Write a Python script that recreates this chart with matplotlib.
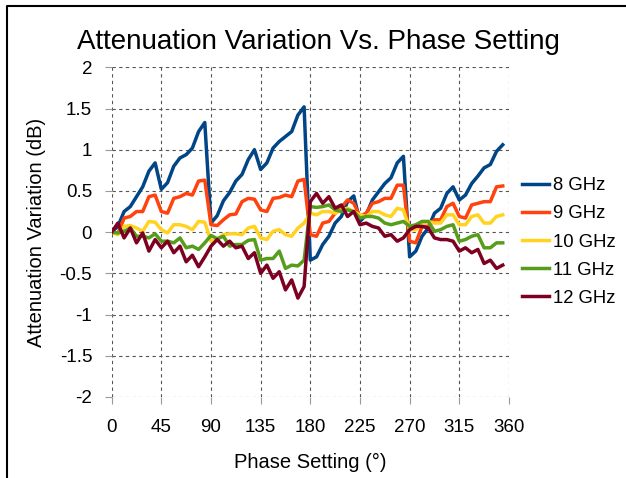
import numpy as np
import matplotlib.pyplot as plt
from matplotlib.lines import Line2D

plt.rcParams['font.family'] = ['Liberation Sans', 'DejaVu Sans']

# phase settings, 5.625 degree steps
phase = np.arange(64) * 5.625

ghz8 = [0, 0.07, 0.25, 0.31, 0.43, 0.55, 0.74, 0.84, 0.52, 0.6, 0.8, 0.9, 0.94, 1.02, 1.22, 1.33,
        0.11, 0.2, 0.38, 0.48, 0.62, 0.70, 0.88, 1.0, 0.76, 0.84, 1.02, 1.1, 1.16, 1.22, 1.42, 1.52,
        -0.34, -0.3, -0.15, -0.05, 0.11, 0.19, 0.37, 0.44, 0.13, 0.21, 0.39, 0.49, 0.59, 0.66, 0.84, 0.92,
        -0.3, -0.23, -0.05, 0.05, 0.23, 0.29, 0.47, 0.55, 0.39, 0.45, 0.59, 0.68, 0.78, 0.82, 0.98, 1.06]
ghz9 = [0, -0.02, 0.17, 0.19, 0.25, 0.25, 0.43, 0.45, 0.25, 0.23, 0.41, 0.43, 0.47, 0.45, 0.62, 0.63,
        0.09, 0.08, 0.15, 0.21, 0.22, 0.37, 0.41, 0.40, 0.27, 0.25, 0.41, 0.42, 0.45, 0.43, 0.62, 0.64,
        -0.03, -0.05, 0.11, 0.13, 0.23, 0.30, 0.39, 0.35, 0.19, 0.23, 0.35, 0.37, 0.41, 0.41, 0.57, 0.57,
        -0.11, -0.13, 0.07, 0.07, 0.15, 0.15, 0.31, 0.35, 0.19, 0.17, 0.33, 0.35, 0.37, 0.37, 0.55, 0.56]
ghz10 = [0, -0.03, 0.07, 0.08, 0.05, 0.01, 0.13, 0.12, 0.03, -0.01, 0.09, 0.09, 0.07, 0.03, 0.13, 0.12,
         -0.11, -0.09, -0.03, -0.02, -0.02, -0.03, 0.05, 0.07, -0.07, -0.09, 0.01, 0.03, -0.03, -0.05, 0.05, 0.11,
         0.23, 0.21, 0.25, 0.25, 0.23, 0.27, 0.29, 0.25, 0.21, 0.19, 0.25, 0.25, 0.21, 0.19, 0.29, 0.27,
         0.03, 0.03, 0.11, 0.13, 0.11, 0.11, 0.21, 0.21, 0.09, 0.09, 0.19, 0.21, 0.11, 0.11, 0.19, 0.21]
ghz11 = [0, -0.01, 0.01, 0.05, -0.05, -0.05, -0.07, -0.02, -0.11, -0.11, -0.13, -0.07, -0.19, -0.17, -0.21, -0.13,
         -0.04, -0.08, -0.05, -0.17, -0.15, -0.15, -0.1, -0.09, -0.34, -0.32, -0.32, -0.23, -0.44, -0.40, -0.41, -0.34,
         0.31, 0.30, 0.31, 0.33, 0.27, 0.25, 0.27, 0.25, 0.17, 0.19, 0.19, 0.17, 0.11, 0.09, 0.11, 0.13,
         0.07, 0.09, 0.13, 0.13, 0.01, 0.03, 0.07, 0.09, -0.11, -0.09, -0.05, -0.03, -0.19, -0.19, -0.13, -0.13]
ghz12 = [0, 0.11, -0.07, 0.05, -0.13, -0.01, -0.23, -0.09, -0.19, -0.11, -0.25, -0.17, -0.36, -0.28, -0.42, -0.30,
         -0.17, -0.09, -0.17, -0.11, -0.19, -0.17, -0.32, -0.25, -0.5, -0.4, -0.56, -0.48, -0.7, -0.58, -0.8, -0.66,
         0.37, 0.47, 0.35, 0.43, 0.29, 0.33, 0.19, 0.25, 0.09, 0.11, 0.07, 0.05, -0.05, -0.03, -0.11, -0.07,
         0.03, 0.07, 0.07, 0.05, -0.07, -0.09, -0.09, -0.11, -0.23, -0.19, -0.25, -0.21, -0.38, -0.34, -0.44, -0.40]

series = [ghz8, ghz9, ghz10, ghz11, ghz12]
names = ['8 GHz', '9 GHz', '10 GHz', '11 GHz', '12 GHz']
colors = ['#004586', '#ff420e', '#ffd320', '#579d1c', '#7e0021']

fig = plt.figure(figsize=(6.26, 4.78), dpi=100)
ax = fig.add_axes([0.1784, 0.1695, 0.6346, 0.6897])

for y, name, c in zip(series, names, colors):
    ax.plot(phase, y, color=c, lw=2.5, label=name)

ax.set_xlim(0, 360)
ax.set_ylim(-2, 2)
ax.set_xticks(np.arange(0, 361, 45))
ax.set_yticks(np.arange(-2, 2.01, 0.5))
ax.set_yticklabels(['-2', '-1.5', '-1', '-0.5', '0', '0.5', '1', '1.5', '2'])
ax.grid(True, color='#555555', linestyle=(0, (3, 3)), lw=0.8)
for s in ax.spines.values():
    s.set_visible(False)
ax.tick_params(labelsize=13.5, color='#999999', length=5, pad=9)
ax.tick_params(axis='x', pad=11)

ax.set_title('Attenuation Variation Vs. Phase Setting', fontsize=20, pad=13, x=0.52)
ax.set_xlabel('Phase Setting (°)', fontsize=14.5, labelpad=12)
ax.set_ylabel('Attenuation Variation (dB)', fontsize=14.5, labelpad=10)

ax.legend(loc='center left', bbox_to_anchor=(0.992, 0.47), frameon=False,
          fontsize=13.3, handlelength=1.45, handletextpad=0.2, labelspacing=0.6)

# outer frame
fig.add_artist(Line2D([7 / 626, 7 / 626, 1], [0, 1 - 6 / 478, 1 - 6 / 478],
                      transform=fig.transFigure, color='black', lw=1.5))

fig.savefig('out.png', dpi=100)
